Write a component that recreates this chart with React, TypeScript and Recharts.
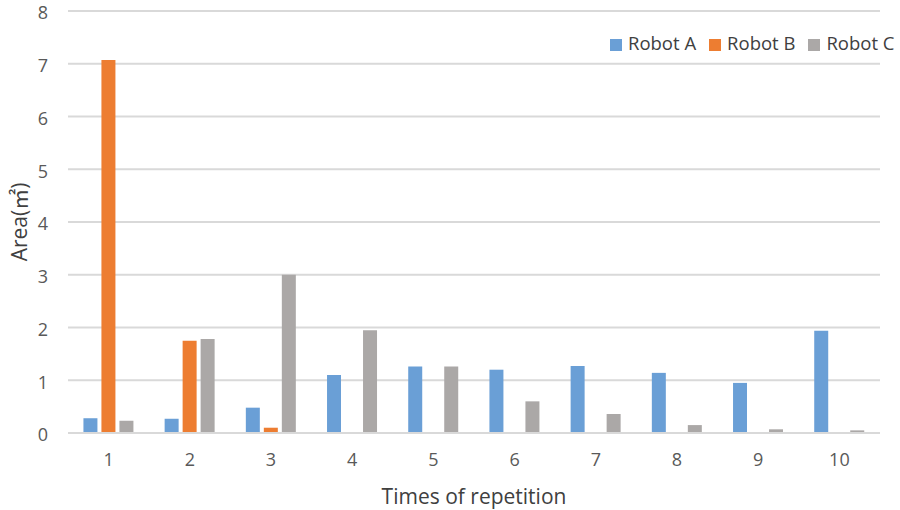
import { BarChart, Bar, XAxis, YAxis, CartesianGrid, Legend } from "recharts";

const repetitions = ["1", "2", "3", "4", "5", "6", "7", "8", "9", "10"];
const robotA = [0.28, 0.27, 0.48, 1.1, 1.26, 1.2, 1.27, 1.14, 0.95, 1.94];
const robotB = [7.07, 1.75, 0.1, 0, 0, 0, 0, 0, 0, 0];
const robotC = [0.23, 1.78, 3.0, 1.95, 1.26, 0.6, 0.36, 0.15, 0.07, 0.05];
const yTicks = [0, 1, 2, 3, 4, 5, 6, 7, 8];

const data = repetitions.map((r, i) => ({
  name: r,
  a: robotA[i],
  b: robotB[i],
  c: robotC[i],
}));

const FONT = "'Open Sans', 'Noto Sans CJK SC', sans-serif";

export default function App() {
  return (
    <div style={{ position: "absolute", left: 0, top: 0, width: 900, height: 510, background: "#fff", fontFamily: FONT }}>
      <BarChart
        width={900}
        height={510}
        data={data}
        margin={{ top: 11, right: 20, bottom: 0, left: 0 }}
        barCategoryGap="19%"
        barGap={4}
      >
        <CartesianGrid vertical={false} stroke="#d9d9d9" strokeWidth={2} />
        <XAxis
          dataKey="name"
          height={77}
          tickLine={false}
          axisLine={{ stroke: "#d9d9d9", strokeWidth: 2 }}
          tick={{ fill: "#595959", fontSize: 18, fontFamily: FONT }}
          tickMargin={14}
          label={{ value: "Times of repetition", position: "insideBottom", offset: 6, fill: "#404040", fontSize: 21, fontFamily: FONT }}
        />
        <YAxis
          width={68}
          domain={[0, 8]}
          ticks={yTicks}
          tickLine={false}
          axisLine={false}
          tick={{ fill: "#595959", fontSize: 18, fontFamily: FONT, dy: 2 }}
          tickMargin={14}
          label={{ value: "Area(㎡)", angle: -90, position: "insideLeft", offset: 20, fill: "#404040", fontSize: 21, fontFamily: FONT, style: { textAnchor: "middle" } }}
        />
        <Legend
          verticalAlign="middle"
          align="center"
          layout="horizontal"
          iconType="square"
          iconSize={12}
          wrapperStyle={{ top: 30, left: 610, width: 290, whiteSpace: "nowrap", fontSize: 18.5, fontFamily: FONT }}
          formatter={(v) => <span style={{ color: "#404040", paddingLeft: 2, marginRight: 3 }}>{v}</span>}
        />
        <Bar dataKey="a" name="Robot A" fill="#6A9FD6" isAnimationActive={false} />
        <Bar dataKey="b" name="Robot B" fill="#ED7D31" isAnimationActive={false} />
        <Bar dataKey="c" name="Robot C" fill="#ABA8A7" isAnimationActive={false} />
      </BarChart>
    </div>
  );
}
